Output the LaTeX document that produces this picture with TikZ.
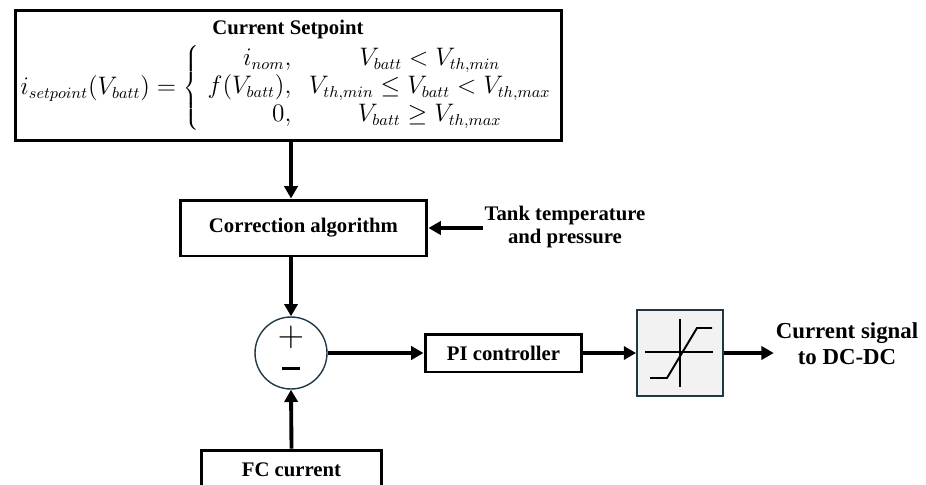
\documentclass[tikz,border=0pt]{standalone}
\usepackage{fontspec}
\setmainfont{Liberation Serif}
\usetikzlibrary{arrows.meta}
\definecolor{sumEdge}{RGB}{31,56,72}
\definecolor{satBg}{RGB}{242,242,242}

\begin{document}
\begin{tikzpicture}[x=0.02cm, y=-0.02cm, font=\fontsize{11.8}{13}\selectfont\bfseries,
  blk/.style={draw, line width=1.7pt, inner sep=0pt},
  sig/.style={line width=2.2pt, -{Triangle[length=7pt,width=7.5pt]}}]
\clip (0,0) rectangle (926,484);
%% ---- Current setpoint ----
\node[blk, minimum width=10.94cm, minimum height=2.62cm] (setpt) at (288.5,75.5) {};
\node (title) at (288,30) {Current Setpoint};
\node[font=\fontsize{13.3}{16}\selectfont] (law) at (291,88)
  {$i_{setpoint}(V_{batt}) = \left\{\begin{array}{rc}
     i_{nom}, & V_{batt} < V_{th,min}\\
     f(V_{batt}), & V_{th,min} \le V_{batt} < V_{th,max}\\
     0, & V_{batt} \ge V_{th,max}
   \end{array}\right.$};
%% ---- Correction ----
\node[blk, minimum width=4.94cm, minimum height=1.12cm] (corr) at (303.5,228) {Correction algorithm};
\node[align=center, inner sep=1pt] (tank) at (565,227) {Tank temperature\\and pressure};
%% ---- Loop ----
\node[circle, draw=sumEdge, line width=0.8pt, minimum size=1.44cm] (sum) at (291,353) {};
\node[font=\fontsize{20}{20}\selectfont\mdseries] (plus) at (291,337) {$+$};
\node[inner sep=0pt] (minus) at (291,368) {\rule{10pt}{1.7pt}};
\node[blk, minimum width=3.14cm, minimum height=0.76cm] (pi) at (503.5,353) {PI controller};
\node[draw=sumEdge, fill=satBg, line width=1.1pt, minimum size=1.72cm, inner sep=0pt] (sat) at (680,353) {};
\draw[line width=1.1pt] (645,352) -- (713,352) (680,319) -- (680,387);
\draw[line width=1.1pt] (650,378) -- (667,378) -- (697,328) -- (712,328);
\node[align=center, inner sep=1pt, font=\fontsize{13}{15}\selectfont\bfseries] (out) at (847,344) {Current signal\\to DC-DC};
\node[blk, minimum width=3.62cm, minimum height=0.8cm] (fc) at (291.5,470) {FC current};
%% ---- Arrows ----
\draw[sig] (sum.north |- setpt.south) -- (sum.north |- corr.north);
\draw[sig] (sum.north |- corr.south) -- (sum.north);
\draw[sig] (tank.west |- corr) -- (corr.east);
\draw[sig] (fc.north) -- (sum.south);
\draw[sig] (sum.east) -- (pi.west);
\draw[sig] (pi.east) -- (sat.west);
\draw[sig] (sat.east) -- (sat.east -| out.west);
\end{tikzpicture}
\end{document}
